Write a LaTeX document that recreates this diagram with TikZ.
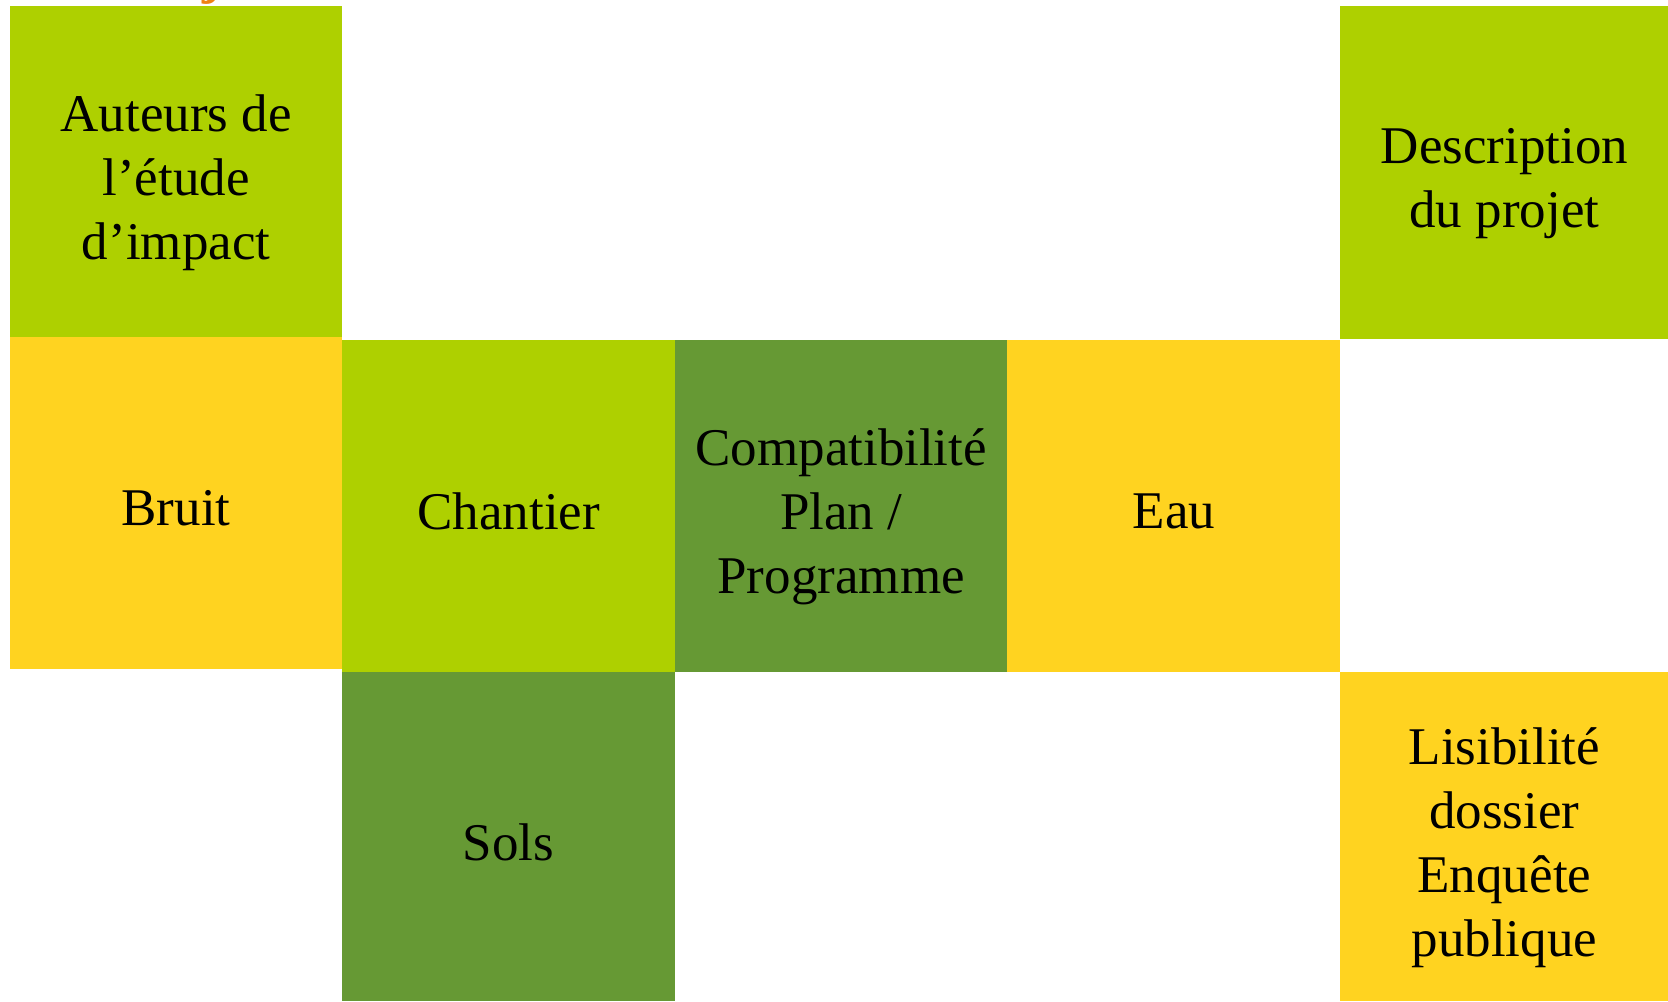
\documentclass[tikz,border=0pt]{standalone}
\usepackage{fontspec}
\setmainfont{Liberation Serif}
\definecolor{lgreen}{RGB}{174,208,0}
\definecolor{dgreen}{RGB}{102,153,52}
\definecolor{sun}{RGB}{255,211,32}
\definecolor{orangetitle}{RGB}{240,130,20}
\begin{document}
\begin{tikzpicture}[x=0.5pt,y=-0.5pt,
  cell/.style={rectangle, draw=none, inner sep=0pt, anchor=north west},
  label1/.style={inner sep=0pt, align=center, text=black,
    font=\fontsize{26.5}{32}\selectfont, yshift=-2.7pt},
  labelm/.style={inner sep=0pt, align=center, text=black,
    font=\fontsize{26.5}{32}\selectfont, yshift=-5.4pt}]
\useasboundingbox (0,0) rectangle (1668,1001);
\fill[white] (0,0) rectangle (1668,1001);
\begin{scope}
\clip (0,0) rectangle (1668,1001);
\node[anchor=base west, inner sep=0pt, text=orangetitle,
  font=\fontsize{28}{32}\selectfont\bfseries] (title) at (202,-8) {j};
\end{scope}
\node[cell, fill=lgreen, minimum width=166.3pt, minimum height=165.5pt] (aut) at (9.4,6) {};
\node[cell, fill=lgreen, minimum width=164pt, minimum height=166.5pt] (desc) at (1340,6) {};
\node[cell, fill=sun, minimum width=166.3pt, minimum height=166.2pt] (bruit) at (9.4,336.3) {};
\node[cell, fill=lgreen, minimum width=166.25pt, minimum height=166.2pt] (chant) at (342,339.3) {};
\node[cell, fill=dgreen, minimum width=166.25pt, minimum height=166.2pt] (compat) at (674.5,339.3) {};
\node[cell, fill=sun, minimum width=166.5pt, minimum height=166.2pt] (eau) at (1007,339.3) {};
\node[cell, fill=dgreen, minimum width=166.15pt, minimum height=164.65pt] (sols) at (342,671.7) {};
\node[cell, fill=sun, minimum width=164pt, minimum height=164.65pt] (lis) at (1340,671.7) {};

\node[labelm] (autT) at (aut.center) {Auteurs de\\l’étude\\d’impact};
\node[labelm] (descT) at (desc.center) {Description\\du projet};
\node[label1] (bruitT) at (bruit.center) {Bruit};
\node[label1] (chantT) at (chant.center) {Chantier};
\node[labelm] (compatT) at (compat.center) {Compatibilité\\Plan /\\Programme};
\node[label1] (eauT) at (eau.center) {Eau};
\node[label1] (solsT) at (sols.center) {Sols};
\node[labelm] (lisT) at (lis.center) {Lisibilité\\dossier\\Enquête\\publique};
\end{tikzpicture}
\end{document}
